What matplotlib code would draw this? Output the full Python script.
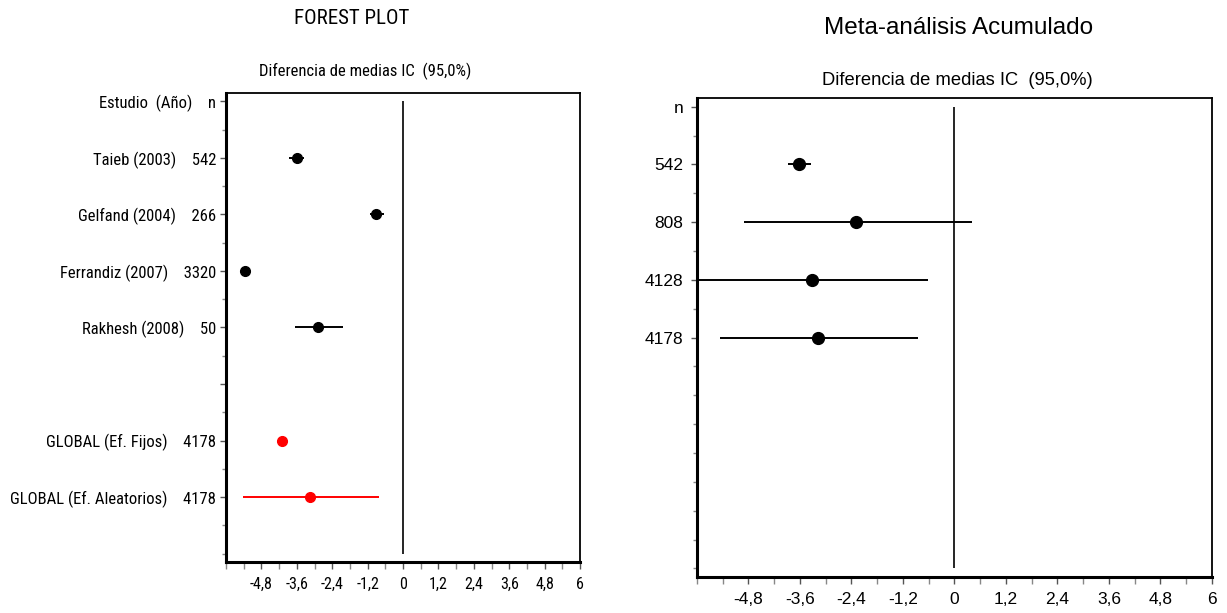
import numpy as np
import matplotlib.pyplot as plt
from matplotlib.ticker import FixedLocator, MultipleLocator

# --- datos del forest plot ---
estudios = ["Taieb (2003)", "Gelfand (2004)", "Ferrandiz (2007)", "Rakhesh (2008)"]
n_estudios = [542, 266, 3320, 50]
dif_medias = [-3.60, -0.92, -5.36, -2.88]
ic_inf = [-3.85, -1.12, -5.46, -3.66]
ic_sup = [-3.35, -0.65, -5.26, -2.04]

globales = ["GLOBAL (Ef. Fijos)", "GLOBAL (Ef. Aleatorios)"]
n_global = [4178, 4178]
dif_global = [-4.10, -3.15]
ic_inf_global = [-4.19, -5.42]
ic_sup_global = [-4.01, -0.81]

# --- meta-análisis acumulado ---
n_acum = [542, 808, 4128, 4178]
dif_acum = [-3.62, -2.29, -3.32, -3.19]
ic_inf_acum = [-3.87, -4.91, -6.00, -5.46]
ic_sup_acum = [-3.35, 0.41, -0.61, -0.86]

xticks = [-4.8, -3.6, -2.4, -1.2, 0, 1.2, 2.4, 3.6, 4.8, 6]


def etiqueta_x(v):
    return f"{v:g}".replace(".", ",")


def formato_ejes(ax, fuente, tam):
    ax.set_xlim(-6, 6)
    ax.set_ylim(8.15, -0.15)
    ax.xaxis.set_major_locator(FixedLocator(xticks))
    ax.xaxis.set_minor_locator(MultipleLocator(0.6))
    ax.set_xticklabels([etiqueta_x(v) for v in xticks], family=fuente, fontsize=tam)
    ax.yaxis.set_minor_locator(MultipleLocator(0.5))
    ax.tick_params(axis="both", which="major", direction="out", length=4,
                   width=1, color="#555555")
    ax.tick_params(axis="both", which="minor", direction="out", length=3,
                   width=1, color="#888888")
    ax.tick_params(axis="x", which="both", length=5)
    ax.tick_params(axis="x", pad=6)
    for lado in ["left", "bottom"]:
        ax.spines[lado].set_linewidth(2.2)
    for lado in ["top", "right"]:
        ax.spines[lado].set_linewidth(1.3)
    ax.vlines(0, 0, 8, color="black", lw=1.2)


fuente_estrecha = ["Roboto Condensed", "Liberation Sans", "DejaVu Sans"]
fuente_normal = ["Liberation Sans", "DejaVu Sans"]

fig = plt.figure(figsize=(12.27, 6.13), dpi=100)

# ---- panel izquierdo: forest plot ----
ax1 = fig.add_axes([0.1842, 0.0832, 0.2885, 0.7651])
formato_ejes(ax1, fuente_estrecha, 11.5)

filas_est = np.arange(1, len(estudios) + 1)
ax1.hlines(filas_est, ic_inf, ic_sup, color="black", lw=1.4)
ax1.plot(dif_medias, filas_est, "o", color="black", ms=7)

filas_glob = np.array([6, 7])
ax1.hlines(filas_glob, ic_inf_global, ic_sup_global, color="red", lw=1.4)
ax1.plot(dif_global, filas_glob, "o", color="red", ms=7)

etiquetas_izq = ["Estudio  (Año)    n"]
etiquetas_izq += [f"{e}    {n}" for e, n in zip(estudios, n_estudios)]
etiquetas_izq += [""]
etiquetas_izq += [f"{g}    {n}" for g, n in zip(globales, n_global)]
ax1.set_yticks(range(len(etiquetas_izq)))
ax1.set_yticklabels(etiquetas_izq, family=fuente_estrecha, fontsize=12)
ax1.tick_params(axis="y", pad=3)

fig.text(0.287, 0.970, "FOREST PLOT", ha="center", va="center",
         family=fuente_estrecha, fontsize=15)
fig.text(0.298, 0.883, "Diferencia de medias IC  (95,0%)", ha="center",
         va="center", family=fuente_estrecha, fontsize=12)

# ---- panel derecho: meta-análisis acumulado ----
ax2 = fig.add_axes([0.568, 0.0587, 0.4197, 0.7813])
formato_ejes(ax2, fuente_normal, 12.5)

filas_acum = np.arange(1, len(n_acum) + 1)
ax2.hlines(filas_acum, ic_inf_acum, ic_sup_acum, color="black", lw=1.4)
ax2.plot(dif_acum, filas_acum, "o", color="black", ms=8.5)

etiquetas_der = ["n"] + [str(n) for n in n_acum]
ax2.set_yticks(range(len(etiquetas_der)))
ax2.set_yticklabels(etiquetas_der, family=fuente_normal, fontsize=12.5)
ax2.tick_params(axis="y", pad=6)

fig.text(0.781, 0.954, "Meta-análisis Acumulado", ha="center", va="center",
         family=fuente_normal, fontsize=17.5)
fig.text(0.780, 0.869, "Diferencia de medias IC  (95,0%)", ha="center",
         va="center", family=fuente_normal, fontsize=13.2)

fig.savefig("out.png", dpi=100)
